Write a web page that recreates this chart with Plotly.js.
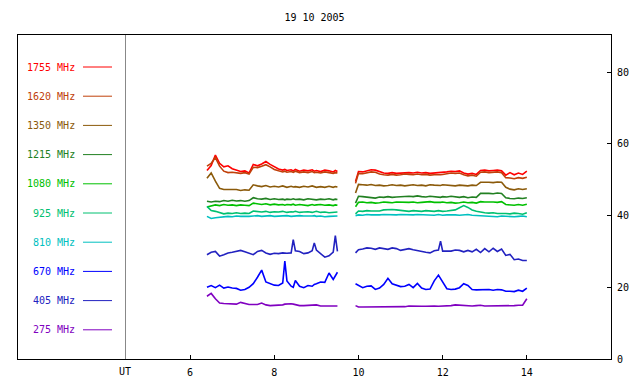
<!DOCTYPE html>
<html><head><meta charset="utf-8">
<script src="https://cdn.plot.ly/plotly-3.0.1.min.js"></script>
<style>html,body{margin:0;padding:0;background:#fff}#chart{width:640px;height:384px}</style>
</head><body><div id="chart"></div>
<script>
const chartTitle = '19 10 2005';
const freqLabels = ['1755 MHz','1620 MHz','1350 MHz','1215 MHz','1080 MHz','925 MHz','810 MHz','670 MHz','405 MHz','275 MHz'];
const freqColors = ['#ff0000','#c0400a','#8b5a0a','#228022','#00c000','#00c070','#00c0c0','#0000ff','#2222c0','#8000c0'];
const xTicks = [6, 8, 10, 12, 14];
const yTicks = [0, 20, 40, 60, 80];

// UT hours (null at 9.7 = data gap)
const time = [6.4,6.5,6.6,6.7,6.8,6.9,7.0,7.1,7.2,7.3,7.4,7.5,7.6,7.7,7.8,7.9,8.0,8.1,8.2,
  8.25,8.3,8.4,8.45,8.5,8.6,8.7,8.8,8.9,8.95,9.0,9.1,9.2,9.3,9.4,9.45,9.5,
  9.7,
  9.93,
  10.0,10.1,10.2,10.3,10.4,10.5,10.6,10.7,10.8,10.9,11.0,11.1,11.2,11.3,11.4,11.5,11.6,11.7,11.8,11.9,
  11.95,
  12.0,12.1,12.2,12.3,12.4,12.5,12.6,12.7,12.8,12.9,13.0,13.1,13.2,13.3,13.4,13.5,13.6,13.7,13.8,13.9,14.0];

const f1755 = [52.6,54.0,56.9,54.6,53.6,53.9,53.1,52.7,52.3,52.5,51.9,54.3,53.9,54.4,55.1,54.3,53.6,53.0,52.7,
  52.9,52.6,52.8,52.5,52.9,52.4,52.7,52.5,52.8,52.4,52.6,52.3,52.7,52.5,52.2,52.6,52.3,
  null,
  49.5,
  52.3,52.2,52.4,52.8,52.7,52.2,51.9,51.8,52.0,51.8,51.9,52.1,52.0,51.9,52.1,51.9,52.0,51.8,51.9,51.8,
  51.9,
  52.0,52.2,52.4,52.3,52.5,51.9,51.6,51.8,51.5,52.6,52.7,52.5,52.6,52.7,52.5,51.3,52.0,51.4,51.9,51.5,52.4];
const f1620 = [53.8,54.6,56.2,53.8,52.4,52.0,52.1,51.9,51.8,52.0,51.6,53.5,53.4,53.8,54.2,53.6,52.9,52.5,52.2,
  52.4,52.1,52.3,52.1,52.4,52.0,52.2,52.0,52.3,52.0,52.1,51.9,52.2,52.0,51.8,52.0,51.9,
  null,
  49.0,
  51.8,51.7,51.9,52.2,52.1,51.6,51.4,51.3,51.5,51.3,51.4,51.6,51.5,51.4,51.6,51.4,51.5,51.3,51.4,51.3,
  51.4,
  51.5,51.7,51.9,51.8,51.9,51.4,51.1,51.3,51.0,52.1,52.2,52.0,52.1,52.2,52.0,50.6,50.5,50.3,50.6,50.4,50.7];
const f1350 = [50.4,51.9,49.6,47.6,47.3,47.3,47.1,47.3,47.0,47.2,47.1,48.6,48.3,48.1,48.4,48.0,48.2,48.0,48.3,
  48.1,47.9,48.2,48.0,48.1,47.9,48.2,48.0,48.3,48.0,47.9,48.1,47.9,48.2,47.9,48.1,48.0,
  null,
  46.3,
  48.7,48.6,48.5,48.7,48.4,48.5,48.3,48.4,48.6,48.4,48.5,48.3,48.5,48.6,48.4,48.5,48.3,48.6,48.5,48.3,
  48.4,
  48.6,48.5,48.4,48.3,48.5,48.4,48.3,48.5,48.4,49.3,49.4,49.3,49.2,49.4,49.3,47.9,47.4,47.2,47.5,47.3,47.5];
const f1215 = [44.0,43.8,44.0,43.9,44.2,44.0,44.3,44.1,44.2,44.0,44.2,45.0,44.7,44.6,44.8,44.5,44.7,44.5,44.6,
  44.4,44.6,44.5,44.7,44.5,44.6,44.4,44.7,44.5,44.6,44.4,44.6,44.5,44.7,44.4,44.6,44.5,
  null,
  43.5,
  45.4,45.3,45.2,45.0,44.9,45.2,45.1,45.3,45.1,45.2,45.3,45.2,45.4,45.3,45.5,45.3,45.2,45.4,45.3,45.2,
  45.1,
  45.3,45.2,45.4,45.3,45.1,45.3,45.0,45.2,45.1,46.2,46.3,46.2,46.1,46.3,46.2,45.0,44.8,44.7,44.9,44.8,45.0];
const f1080 = [42.4,42.8,43.0,42.8,43.1,42.9,43.0,42.8,43.0,42.9,42.8,43.5,43.2,43.1,43.3,43.0,43.2,43.0,43.1,
  42.9,43.1,43.0,43.2,42.9,43.1,43.0,42.8,43.1,42.9,43.0,43.1,42.9,43.0,42.8,43.0,42.9,
  null,
  42.5,
  43.7,43.8,43.6,43.7,43.5,43.6,43.8,43.7,43.6,43.8,43.7,43.6,43.7,43.8,43.6,43.7,43.8,43.9,43.7,43.6,
  43.7,
  43.8,43.6,43.7,43.5,43.6,43.8,43.6,43.7,43.5,43.9,43.8,43.9,43.8,43.7,43.9,43.1,43.0,42.9,43.1,42.9,43.2];
const f925 = [42.6,41.4,41.2,40.8,40.5,40.7,40.6,40.8,40.6,40.7,40.6,41.3,41.2,41.0,41.2,40.9,41.1,41.0,41.2,
  41.0,40.9,41.1,41.0,41.2,40.9,41.0,41.1,40.9,41.0,41.2,40.9,41.0,40.8,41.0,40.9,41.0,
  null,
  40.5,
  41.3,41.2,41.4,41.3,41.2,41.3,41.6,41.7,41.7,41.6,41.5,41.3,41.2,41.4,41.3,41.2,41.4,41.3,41.2,41.4,
  41.3,
  41.2,41.3,41.4,41.6,42.2,42.8,42.3,41.6,41.2,40.9,40.8,40.7,40.8,40.6,40.7,40.6,40.5,40.7,40.6,40.4,40.8];
const f810 = [39.8,39.2,39.4,39.6,39.7,39.8,39.7,39.9,39.8,39.7,39.8,39.9,40.0,39.8,39.9,40.0,39.8,39.9,39.8,
  39.9,40.0,39.8,39.9,39.8,40.0,39.9,39.8,39.9,40.0,39.8,39.9,39.7,39.8,39.9,39.8,39.9,
  null,
  40.0,
  40.2,40.1,40.3,40.2,40.1,40.2,40.3,40.2,40.1,40.2,40.3,40.2,40.1,40.2,40.3,40.2,40.1,40.2,40.1,40.3,
  40.2,
  40.1,40.2,40.3,40.2,40.1,40.2,40.3,40.1,40.0,39.9,39.8,39.9,39.8,39.7,39.9,39.8,39.9,39.7,39.8,39.9,39.7];
const f670 = [20.0,20.5,19.9,20.6,19.8,20.1,19.8,19.7,19.2,19.4,20.0,21.0,22.8,24.8,21.5,21.0,20.6,20.5,21.2,
  27.3,21.8,20.3,20.0,21.9,20.3,19.9,20.5,20.3,20.8,21.0,21.5,21.4,24.0,22.2,23.3,24.2,
  null,
  21.0,
  20.5,19.9,20.3,20.4,19.4,19.8,20.8,22.5,21.0,20.6,20.2,20.3,20.8,19.9,21.1,19.8,19.4,19.5,21.8,23.4,
  22.4,
  21.6,19.6,19.4,19.5,19.9,21.0,20.5,19.4,19.3,19.4,19.3,19.4,19.2,19.4,19.3,18.9,18.9,18.8,19.2,18.9,19.8];
const f405 = [29.1,29.8,30.0,28.7,29.1,29.6,29.8,30.1,30.3,29.9,29.4,29.1,30.0,30.3,29.6,29.2,29.5,29.4,29.6,
  29.5,29.5,29.6,33.3,30.2,30.0,29.4,29.6,30.2,32.4,30.4,29.3,28.4,28.8,29.8,34.4,30.0,
  null,
  29.6,
  30.5,30.7,31.0,30.9,30.6,31.0,30.8,30.6,31.0,30.8,30.3,30.5,30.8,30.5,30.2,30.0,29.8,29.6,30.2,30.4,
  32.9,
  30.1,30.0,30.1,30.4,30.3,29.9,30.3,29.9,30.6,29.7,30.8,29.9,30.9,30.0,30.7,28.9,29.2,27.7,27.9,27.5,27.5];
const f275 = [17.5,18.3,16.8,15.6,15.5,15.5,15.4,15.3,15.8,15.5,15.2,15.2,15.2,15.6,15.1,14.9,14.9,14.9,15.1,
  15.3,15.4,15.4,15.3,15.1,14.9,14.9,15.0,15.2,15.2,15.1,14.8,14.9,14.8,14.8,14.8,14.8,
  null,
  14.9,
  14.5,14.5,14.5,14.5,14.6,14.6,14.7,14.6,14.7,14.7,14.7,14.6,14.8,14.7,14.8,14.7,14.7,14.8,14.8,14.7,
  14.7,
  14.8,14.9,14.9,15.1,15.0,14.9,14.8,14.8,14.9,15.0,14.8,14.8,14.7,14.8,14.8,14.8,14.9,14.9,15.0,15.0,16.8];

const seriesValues = [f1755, f1620, f1350, f1215, f1080, f925, f810, f670, f405, f275];

// pixel geometry of plot frame
const W = 640, H = 384, L = 18, R = 611, T = 35, B = 359;
const px2x = p => (p - L) / (R - L);
const py2y = p => (B - p) / (B - T);
const mono = 'DejaVu Sans Mono, monospace';

const traces = seriesValues.map((v, i) => ({
  x: time, y: v, type: 'scatter', mode: 'lines',
  line: {color: freqColors[i], width: 1.6}, connectgaps: false, hoverinfo: 'skip', name: freqLabels[i]
}));

const annotations = [];
const shapes = [];
freqLabels.forEach((lab, i) => {
  const py = 67 + i * 29.2;
  annotations.push({xref: 'paper', yref: 'paper', x: px2x(77), y: py2y(py), xanchor: 'right', yanchor: 'middle',
    text: lab, showarrow: false, font: {family: mono, size: 10, color: freqColors[i]}});
  shapes.push({type: 'line', xref: 'paper', yref: 'paper', x0: px2x(83), x1: px2x(112), y0: py2y(py), y1: py2y(py),
    line: {color: freqColors[i], width: 1}});
});
shapes.push({type: 'line', xref: 'paper', yref: 'paper', x0: px2x(125.5), x1: px2x(125.5), y0: 0, y1: 1,
  line: {color: '#888888', width: 1}});
annotations.push({xref: 'paper', yref: 'paper', x: px2x(125), y: py2y(371), xanchor: 'center', yanchor: 'middle',
  text: 'UT', showarrow: false, font: {family: mono, size: 10, color: '#000'}});

const layout = {
  width: W, height: H,
  margin: {l: L, r: W - R, t: T, b: H - B, pad: 0},
  paper_bgcolor: '#fff', plot_bgcolor: '#fff',
  showlegend: false,
  title: {text: chartTitle, font: {family: mono, size: 10, color: '#000'}, x: 0.5, xref: 'paper', xanchor: 'center',
    y: 1 - 17 / H, yref: 'container', yanchor: 'middle'},
  xaxis: {range: [1.91, 16.0], tickvals: xTicks, ticktext: xTicks.map(String), ticks: 'inside', ticklen: 4, tickcolor: '#000',
    showline: true, linecolor: '#000', linewidth: 1, mirror: true, showgrid: false, zeroline: false,
    tickfont: {family: mono, size: 10, color: '#000'}, ticklabelstandoff: 4},
  yaxis: {range: [0, 90.4], side: 'right', tickvals: yTicks, ticktext: yTicks.map(String), ticks: 'inside', ticklen: 4, tickcolor: '#000',
    showline: true, linecolor: '#000', linewidth: 1, mirror: true, showgrid: false, zeroline: false,
    tickfont: {family: mono, size: 10, color: '#000'}, ticklabelstandoff: 3},
  annotations: annotations, shapes: shapes
};
Plotly.newPlot('chart', traces, layout, {staticPlot: true, displayModeBar: false});
</script></body></html>
